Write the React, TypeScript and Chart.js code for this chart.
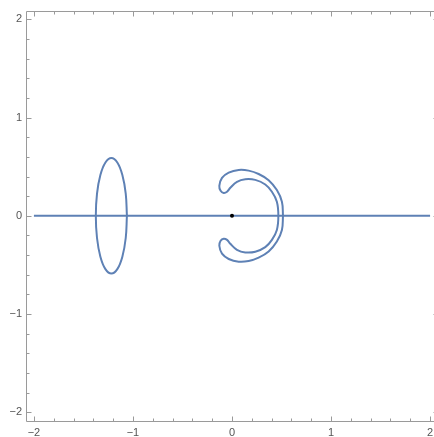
import React, { useEffect, useRef } from "react";
import { Chart, registerables } from "chart.js";

Chart.register(...registerables);

// Axis ticks
const majorTicks = [-2, -1, 0, 1, 2];
const minorTicks = [
  -1.8, -1.6, -1.4, -1.2, -0.8, -0.6, -0.4, -0.2, 0.2, 0.4, 0.6, 0.8, 1.2, 1.4, 1.6, 1.8,
];
const tickLabels = ["\u22122", "\u22121", "0", "1", "2"];

// Horizontal line
const lineX = [-2, 2];
const lineY = [0, 0];

// Ellipse (left loop)
const ellipseX = [
  -1.061, -1.073, -1.107, -1.158, -1.218, -1.278, -1.329, -1.363, -1.375,
  -1.363, -1.329, -1.278, -1.218, -1.158, -1.107, -1.073, -1.061,
];
const ellipseY = [
  0, 0.226, 0.416, 0.543, 0.588, 0.543, 0.416, 0.226, 0,
  -0.226, -0.416, -0.543, -0.588, -0.543, -0.416, -0.226, 0,
];

// Horseshoe (right curve)
const shoeX = [
  0.515, 0.504, 0.453, 0.37, 0.269, 0.168, 0.067, -0.033, -0.101, -0.128,
  -0.115, -0.084, -0.05, -0.017, 0.05, 0.134, 0.235, 0.336, 0.403, 0.453, 0.468,
  0.453, 0.403, 0.336, 0.235, 0.134, 0.05, -0.017, -0.05, -0.084, -0.115,
  -0.128, -0.101, -0.033, 0.067, 0.168, 0.269, 0.37, 0.453, 0.504, 0.515,
];
const shoeY = [
  0, 0.144, 0.262, 0.363, 0.426, 0.46, 0.467, 0.44, 0.386, 0.305,
  0.255, 0.233, 0.245, 0.285, 0.346, 0.373, 0.366, 0.319, 0.245, 0.144, 0,
  -0.144, -0.245, -0.319, -0.366, -0.373, -0.346, -0.285, -0.245, -0.233, -0.255,
  -0.305, -0.386, -0.44, -0.467, -0.46, -0.426, -0.363, -0.262, -0.144, 0,
];

// Dot at origin
const dotX = [0];
const dotY = [0];

const CURVE = "#5E81B5";
const FRAME = "#9a9a9a";
const LABEL = "#555555";

const zip = (xs: number[], ys: number[]) => xs.map((x, i) => ({ x, y: ys[i] }));

const framePlugin = {
  id: "mmaFrame",
  afterDraw(chart: any) {
    const { ctx, chartArea } = chart;
    const xs = chart.scales.x;
    const ys = chart.scales.y;
    const L = Math.round(chartArea.left) + 0.5;
    const R = Math.round(chartArea.right) + 0.5;
    const T = Math.round(chartArea.top) + 0.5;
    const B = Math.round(chartArea.bottom) + 0.5;
    ctx.save();
    ctx.strokeStyle = FRAME;
    ctx.lineWidth = 1;
    ctx.beginPath();
    ctx.moveTo(L, T);
    ctx.lineTo(R, T);
    ctx.lineTo(R, B);
    ctx.lineTo(L, B);
    ctx.closePath();
    ctx.stroke();
    const draw = (vals: number[], len: number) => {
      ctx.beginPath();
      vals.forEach((v) => {
        const px = Math.round(xs.getPixelForValue(v)) + 0.5;
        ctx.moveTo(px, B);
        ctx.lineTo(px, B - len);
        ctx.moveTo(px, T);
        ctx.lineTo(px, T + len);
        const py = Math.round(ys.getPixelForValue(v)) + 0.5;
        ctx.moveTo(L, py);
        ctx.lineTo(L + len, py);
        ctx.moveTo(R, py);
        ctx.lineTo(R - len, py);
      });
      ctx.stroke();
    };
    draw(majorTicks, 5);
    draw(minorTicks, 3);
    ctx.restore();
  },
};

export default function App() {
  const ref = useRef<HTMLCanvasElement | null>(null);
  useEffect(() => {
    if (!ref.current) return;
    const labelFor = (v: number) => {
      const i = majorTicks.indexOf(Math.round(v * 1000) / 1000);
      return i >= 0 ? tickLabels[i] : "";
    };
    const chart = new Chart(ref.current, {
      type: "scatter",
      data: {
        datasets: [
          {
            data: zip(dotX, dotY),
            showLine: false,
            pointRadius: 2,
            pointBackgroundColor: "#000",
            pointBorderWidth: 0,
            borderColor: "#000",
            order: 0,
          },
          {
            data: zip(lineX, lineY),
            showLine: true,
            borderColor: CURVE,
            borderWidth: 2,
            pointRadius: 0,
            order: 1,
          },
          {
            data: zip(ellipseX, ellipseY),
            showLine: true,
            borderColor: CURVE,
            borderWidth: 2,
            pointRadius: 0,
            tension: 0.4,
            order: 2,
          },
          {
            data: zip(shoeX, shoeY),
            showLine: true,
            borderColor: CURVE,
            borderWidth: 2,
            pointRadius: 0,
            tension: 0.4,
            order: 3,
          },
        ],
      },
      options: {
        animation: false,
        responsive: false,
        layout: { padding: { top: 7, right: 2, left: 0, bottom: 0 } },
        plugins: { legend: { display: false }, tooltip: { enabled: false } },
        scales: {
          x: {
            type: "linear",
            min: -2.08,
            max: 2.08,
            grid: { display: false, drawTicks: false },
            border: { display: false },
            afterBuildTicks: (s: any) => {
              s.ticks = majorTicks.map((v) => ({ value: v }));
            },
            afterFit: (s: any) => {
              s.height = 16;
            },
            ticks: {
              padding: 5,
              color: LABEL,
              font: { family: "Liberation Sans", size: 11 },
              maxRotation: 0,
              autoSkip: false,
              callback: (v: any) => labelFor(Number(v)),
            },
          },
          y: {
            type: "linear",
            min: -2.09,
            max: 2.09,
            grid: { display: false, drawTicks: false },
            border: { display: false },
            afterBuildTicks: (s: any) => {
              s.ticks = majorTicks.map((v) => ({ value: v }));
            },
            afterFit: (s: any) => {
              s.width = 26;
            },
            ticks: {
              padding: 4,
              color: LABEL,
              font: { family: "Liberation Sans", size: 11 },
              autoSkip: false,
              callback: (v: any) => labelFor(Number(v)),
            },
          },
        },
      },
      plugins: [framePlugin],
    });
    return () => chart.destroy();
  }, []);
  return (
    <div
      style={{
        position: "fixed",
        left: 0,
        top: 0,
        width: 434,
        height: 437,
        overflow: "hidden",
        background: "#fff",
      }}
    >
      <canvas ref={ref} width={442} height={437} style={{ display: "block" }} />
    </div>
  );
}
